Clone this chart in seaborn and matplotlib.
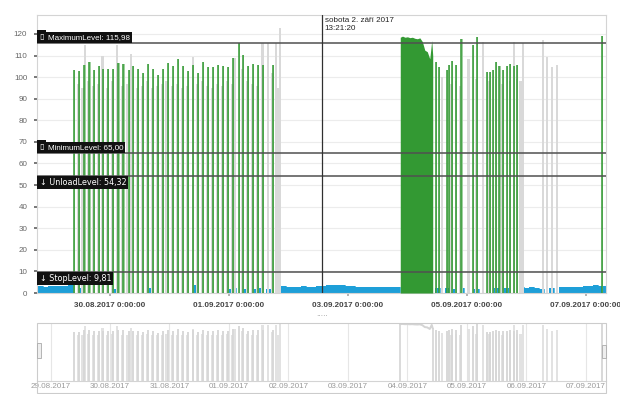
import numpy as np
import pandas as pd
import matplotlib
matplotlib.use("Agg")
import matplotlib.pyplot as plt
import matplotlib.dates as mdates
import matplotlib.ticker as mticker
from matplotlib.patches import Rectangle
import seaborn as sns

sns.set_theme(style="white")
plt.rcParams["font.family"] = ["Liberation Sans", "DejaVu Sans"]

# ---------------------------------------------------------------- data
T0 = pd.Timestamp("2017-08-30 00:00")          # hours below are relative to this

level_names = ["MaximumLevel", "MinimumLevel", "UnloadLevel", "StopLevel"]
level_values = [115.98, 65.00, 54.32, 9.81]

# loading cycles (hours, peak level)
green_hours = [-14.5, -12.5, -10.3, -8.3, -6.3, -4.4, -2.7, -0.9, 1.3, 3.4,
               5.4, 7.6, 9.4, 11.4, 13.4, 15.4, 17.5, 19.5, 21.5, 23.2,
               25.5, 27.5, 29.5, 31.6, 33.6, 35.6, 37.6, 39.6, 41.6, 43.6,
               45.7, 47.7, 49.7, 52.0, 53.7, 55.7, 57.7, 59.8, 61.8, 65.8,
               131.6, 132.6, 135.9, 136.8, 138.0, 139.7, 141.8, 146.4, 148.2,
               152.0, 153.2, 154.5, 155.8, 157.1, 158.5, 160.0, 161.5, 162.9,
               164.2, 198.4]
green_peaks = [103.1, 103.0, 105.7, 106.8, 103.4, 105.0, 104.0, 104.0, 104.0, 106.5,
               106.0, 103.4, 105.0, 104.0, 102.0, 106.0, 103.8, 101.0, 104.0, 106.5,
               105.0, 108.3, 105.0, 103.0, 105.7, 101.8, 106.8, 104.6, 104.6, 105.7,
               105.0, 104.6, 108.8, 115.7, 110.3, 105.0, 106.0, 105.7, 105.7, 105.7,
               107.0, 104.5, 103.5, 105.5, 107.5, 105.5, 117.5, 115.0, 118.8,
               102.6, 102.6, 103.3, 107.0, 105.2, 103.3, 105.0, 106.0, 105.2,
               105.5, 119.0]

# continuous filling period on 4.9.
block_hours = [117.1, 118.0, 119.0, 120.0, 121.0, 122.0, 123.0, 124.0, 125.0,
               126.0, 127.0, 128.0, 129.0, 129.8, 130.2]
block_peaks = [118.5, 119.0, 118.5, 118.7, 118.3, 118.5, 118.0, 117.8, 118.2,
               116.5, 112.5, 111.8, 108.5, 117.0, 110.0]

# secondary signal (light grey)
grey_hours = [-13.5, -11.5, -10.5, -9.3, -7.3, -5.3, -3.5, -1.8, 0.3, 2.4,
              4.4, 6.4, 7.9, 10.4, 12.4, 14.4, 16.5, 18.5, 20.5, 22.3,
              24.5, 26.5, 28.5, 30.6, 32.9, 34.6, 36.6, 38.6, 40.6, 42.6,
              44.7, 46.7, 48.7, 50.0, 52.8, 54.7, 56.7, 58.8, 61.0, 63.2,
              64.8, 66.5, 67.2, 68.0,
              133.5, 137.2, 139.0, 140.8, 144.1, 147.3, 150.0, 152.6, 155.2,
              157.8, 160.8, 162.4, 163.6, 165.2, 166.2,
              174.2, 175.8, 177.8, 179.8]
grey_peaks = [97.0, 95.0, 115.0, 98.0, 96.0, 97.0, 110.0, 95.0, 98.0, 115.0,
              96.0, 97.0, 110.5, 95.0, 96.0, 98.0, 95.0, 96.0, 97.0, 98.0,
              96.0, 97.0, 95.0, 96.0, 109.5, 97.0, 98.0, 96.0, 95.0, 97.0,
              96.0, 98.0, 97.0, 108.8, 104.0, 98.0, 97.0, 96.0, 115.8, 115.8,
              102.0, 115.8, 95.0, 122.6,
              100.0, 97.0, 98.0, 96.0, 108.3, 99.0, 116.5, 98.0, 99.0,
              97.0, 98.0, 116.5, 99.0, 98.0, 116.0,
              117.0, 109.5, 104.6, 105.6]

# hopper level between cycles (blue), sampled every 2 h from -30 h to 200 h
blue_hours = list(range(-30, 201, 2))
blue_values = [3.0, 3.2, 3.0, 3.3, 3.1, 3.4, 3.3, 4.4,
               0.0, 2.2, 0.0, 0.0, 0.0, 0.0, 0.0, 0.0, 2.0, 0.0,
               0.0, 0.0, 0.0, 0.0, 0.0, 2.1, 0.0, 0.0, 0.0, 0.0,
               0.0, 0.0, 0.0, 0.0, 3.5, 0.0, 0.0, 0.0, 0.0, 0.0,
               0.0, 2.0, 2.2, 0.0, 2.0, 0.0, 2.0, 2.2, 0.0, 2.0, 0.0,
               3.4, 3.2, 3.0, 2.8, 3.0, 3.1, 2.9, 3.0, 3.2, 3.3,
               3.5, 3.8, 3.9, 3.6, 3.4, 3.2, 3.0, 2.8, 2.7, 2.9,
               3.0, 2.8, 2.7, 2.6, 2.9,
               0.0, 0.0, 0.0, 0.0, 0.0, 0.0, 0.0,
               2.2, 0.0, 2.4, 2.0, 0.0, 2.2, 0.0, 0.0, 2.0, 0.0,
               0.0, 0.0, 2.1, 0.0, 2.3, 0.0, 0.0,
               2.6, 2.4, 2.6, 2.5,
               2.0, 0.0, 2.2, 0.0,
               2.8, 2.6, 2.9, 3.0, 2.8, 3.1, 3.3, 3.6,
               3.4, 3.2]

cursor_time = pd.Timestamp("2017-09-02 13:21:20")
cursor_text = "sobota 2. září 2017\n13:21:20"

x_start_h, x_end_h = -29.45, 200.1
xtick_dates = ["2017-08-30", "2017-09-01", "2017-09-03", "2017-09-05", "2017-09-07"]
xtick_labels = ["30.08.2017 0:00:00", "01.09.2017 0:00:00", "03.09.2017 0:00:00",
                "05.09.2017 0:00:00", "07.09.2017 0:00:00"]
nav_dates = ["2017-08-29", "2017-08-30", "2017-08-31", "2017-09-01", "2017-09-02",
             "2017-09-03", "2017-09-04", "2017-09-05", "2017-09-06", "2017-09-07"]
nav_labels = ["29.08.2017", "30.08.2017", "31.08.2017", "01.09.2017", "02.09.2017",
              "03.09.2017", "04.09.2017", "05.09.2017", "06.09.2017", "07.09.2017"]


def at(hours):
    return T0 + pd.to_timedelta(np.asarray(hours, dtype=float), unit="h")


# ---------------------------------------------------------------- styles
GREEN = "#339933"
GREEN_SOFT = "#9fd09f"
GREY = "#d9d9d9"
BLUE = "#1e9fd8"
LINE = "#505050"
FS = 5.8
GREY_W = 1.0 / 24           # width of a secondary-signal column (days)
SOFT_W = 0.45 / 24          # anti-aliased fringe right of each cycle line

W, H = 620, 394
fig = plt.figure(figsize=(W / 100, H / 100), dpi=100)


def box(l, t, r, b):
    return [l / W, 1 - b / H, (r - l) / W, (b - t) / H]


ax = fig.add_axes(box(37, 15, 606, 293))
nav = fig.add_axes(box(37, 323, 606, 381))

xmin, xmax = at([x_start_h, x_end_h])

# ---------------------------------------------------------------- main chart
ax.set_facecolor("white")
for y in range(0, 130, 10):
    ax.axhline(y, color="#ececec", lw=0.8, zorder=0)

blue_t = at(blue_hours)
ax.fill_between(blue_t, 0, blue_values, step="mid", color=BLUE, lw=0, zorder=1)
sns.lineplot(x=blue_t, y=blue_values, ax=ax, drawstyle="steps-mid",
             color=BLUE, lw=0.5, zorder=1)

ax.bar(at(grey_hours), grey_peaks, width=GREY_W, align="edge",
       color=GREY, lw=0, zorder=2)
ax.bar(at(green_hours), green_peaks, width=SOFT_W, align="edge",
       color=GREEN_SOFT, lw=0, zorder=3)
ax.vlines(at(green_hours), 0, green_peaks, color=GREEN, lw=1.1, zorder=3)
ax.fill_between(at(block_hours), 0, block_peaks, color=GREEN, lw=0, zorder=3)

for name, val in zip(level_names, level_values):
    ax.axhline(val, color=LINE, lw=1.1, zorder=5)

ax.axvline(cursor_time, color="#303030", lw=0.9, zorder=6)

ax.set_xlim(xmin, xmax)
ax.set_ylim(0, 128.8)

ax.yaxis.set_major_locator(mticker.MultipleLocator(10))
ax.yaxis.set_minor_locator(mticker.MultipleLocator(2))
ax.xaxis.set_major_locator(mticker.FixedLocator(mdates.date2num(pd.to_datetime(xtick_dates))))
ax.xaxis.set_major_formatter(mticker.FixedFormatter(xtick_labels))
ax.xaxis.set_minor_locator(mdates.DayLocator())
ax.tick_params(axis="y", which="major", labelsize=FS, colors="#666666", length=2, pad=5)
ax.tick_params(axis="y", which="minor", length=1.5, colors="#bbbbbb")
ax.tick_params(axis="x", which="major", labelsize=FS, labelcolor="#444444",
               colors="#aaaaaa", length=2.5, pad=4)
ax.tick_params(axis="x", which="minor", length=2.5, colors="#aaaaaa")
ax.tick_params(left=True, bottom=True)
for lab in ax.get_xticklabels():
    lab.set_fontweight("bold")
for s in ax.spines.values():
    s.set_color("#d4d4d4")
    s.set_linewidth(0.8)
ax.set_xlabel("")
ax.set_ylabel("")

# level captions
ytf = ax.get_yaxis_transform()
label_kw = dict(xycoords=ytf, textcoords="offset points", fontsize=FS, color="white",
                zorder=8, annotation_clip=False)
bbox_kw = dict(boxstyle="square,pad=0.25", fc="#111111", ec="none")
for name, val in zip(level_names, level_values):
    text = f"{name}: {val:.2f}".replace(".", ",")
    if val >= 60:
        ax.annotate("▯", xy=(0, val), xytext=(1.8, 1.4), ha="left", va="bottom",
                    family="DejaVu Sans", bbox=bbox_kw, **label_kw)
        ax.annotate(text, xy=(0, val), xytext=(7.9, 1.4), ha="left", va="bottom",
                    bbox=bbox_kw, **label_kw)
    else:
        ax.annotate("↓ " + text, xy=(0, val), xytext=(1.8, -1.4), ha="left", va="top",
                    family=["DejaVu Sans"], bbox=bbox_kw, **label_kw)

ax.annotate(cursor_text, xy=(mdates.date2num(cursor_time), 1),
            xycoords=ax.get_xaxis_transform(), xytext=(2.2, -1.6),
            textcoords="offset points", ha="left", va="top", fontsize=FS,
            color="#222222", linespacing=1.15, zorder=8)

# splitter grip
fig.text(322 / W, 1 - 317 / H, "·····", ha="center", va="center",
         fontsize=5, color="#888888")

# ---------------------------------------------------------------- navigator
nav.set_facecolor("white")
nav_days = mdates.date2num(pd.to_datetime(nav_dates))
for d in nav_days:
    nav.axvline(d, color="#e6e6e6", lw=0.8, zorder=0)
nav.bar(at(grey_hours), grey_peaks, width=GREY_W, align="edge",
        color="#e2e2e2", lw=0, zorder=1)
nav.vlines(at(green_hours), 0, green_peaks, color="#d6d6d6", lw=1.3, zorder=2)
block_t = at(block_hours)
sns.lineplot(x=block_t, y=block_peaks, ax=nav, color="#d4d4d4", lw=1.4, zorder=2)
nav.vlines([block_t[0], block_t[-1]], 0, [block_peaks[0], block_peaks[-1]],
           color="#d4d4d4", lw=1.2, zorder=2)
nav.set_xlim(xmin, xmax)
nav.set_ylim(0, 121)
nav.set_yticks([])
nav.xaxis.set_major_locator(mticker.FixedLocator(nav_days))
nav.xaxis.set_major_formatter(mticker.FixedFormatter(nav_labels))
nav.tick_params(axis="x", labelsize=FS, labelcolor="#9a9a9a", length=0, pad=1.5)
nav.set_xlabel("")
nav.set_ylabel("")
for s in nav.spines.values():
    s.set_visible(False)
nav.spines["bottom"].set_visible(True)
nav.spines["bottom"].set_color("#d4d4d4")
nav.spines["bottom"].set_linewidth(0.8)

# navigator frame and scroll handles
fig.patches.append(Rectangle((37 / W, 1 - 393 / H), 569 / W, 70 / H,
                             transform=fig.transFigure, fill=False,
                             ec="#cccccc", lw=0.8))
fig.patches.append(Rectangle((37 / W, 1 - 358 / H), 4 / W, 15 / H,
                             transform=fig.transFigure, fc="#eeeeee",
                             ec="#aaaaaa", lw=0.6))
fig.patches.append(Rectangle((602 / W, 1 - 358 / H), 4 / W, 13 / H,
                             transform=fig.transFigure, fc="#eeeeee",
                             ec="#aaaaaa", lw=0.6))

fig.savefig("out.png", dpi=100)
